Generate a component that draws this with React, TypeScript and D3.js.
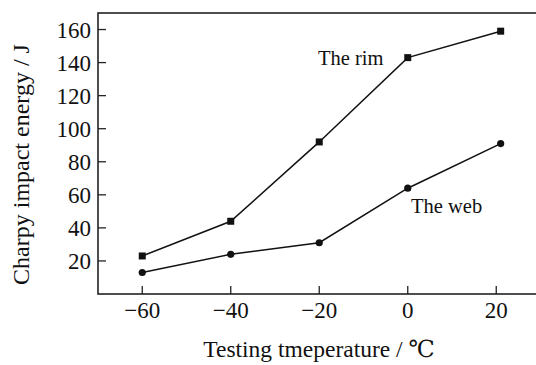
import React from "react";
import * as d3 from "d3";

const temperatures = [-60, -40, -20, 0, 21];
const rimEnergy = [23, 44, 92, 143, 159];
const webEnergy = [13, 24, 31, 64, 91];
const xTicks = [-60, -40, -20, 0, 20];
const yTicks = [20, 40, 60, 80, 100, 120, 140, 160];
const xTitle = "Testing tmeperature / ℃";
const yTitle = "Charpy impact energy / J";
const rimLabel = "The rim";
const webLabel = "The web";

export default function App() {
  const W = 536, H = 365;
  const left = 98, top = 13, bottom = 294;
  const x = d3.scaleLinear().domain([-70, 30]).range([left, left + 442.5]);
  const y = d3.scaleLinear().domain([0, 170]).range([bottom, top]);
  const line = d3
    .line<number>()
    .x((_, i) => x(temperatures[i]))
    .y((d) => y(d));
  const font = "Liberation Serif, Times New Roman, Times, DejaVu Serif, serif";
  const fmt = (v: number) => (v < 0 ? "\u2212" + Math.abs(v) : String(v));
  const stroke = "#222";
  const ts = { fontFamily: font };
  return (
    <svg width={W} height={H} style={{ position: "absolute", left: 0, top: 0, background: "#fff" }}>
      <rect x={0} y={0} width={W} height={H} fill="#fff" />
      <rect
        x={x(-70)}
        y={y(170)}
        width={x(30) - x(-70)}
        height={y(0) - y(170)}
        fill="none"
        stroke={stroke}
        strokeWidth={1.6}
      />
      {yTicks.map((t) => (
        <g key={"y" + t}>
          <line x1={left} x2={left + 8} y1={y(t)} y2={y(t)} stroke={stroke} strokeWidth={1.3} />
          <text x={91} y={y(t)} dy="0.35em" textAnchor="end" style={ts} fontSize={23} fill="#111">
            {fmt(t)}
          </text>
        </g>
      ))}
      {xTicks.map((t) => (
        <g key={"x" + t}>
          <line x1={x(t)} x2={x(t)} y1={bottom} y2={bottom - 8} stroke={stroke} strokeWidth={1.3} />
          <text x={x(t)} y={318} textAnchor="middle" style={ts} fontSize={23} fill="#111">
            {fmt(t)}
          </text>
        </g>
      ))}
      <text x={319} y={357} textAnchor="middle" style={ts} fontSize={23.5} fill="#111">
        {xTitle}
      </text>
      <text
        transform={`translate(28.5, 164.5) rotate(-90)`}
        textAnchor="middle"
        style={ts}
        fontSize={24}
        fill="#111"
      >
        {yTitle}
      </text>
      <path d={line(rimEnergy) || ""} fill="none" stroke="#111" strokeWidth={1.5} />
      <path d={line(webEnergy) || ""} fill="none" stroke="#111" strokeWidth={1.5} />
      {rimEnergy.map((v, i) => (
        <rect key={"r" + i} x={x(temperatures[i]) - 3.5} y={y(v) - 3.5} width={7} height={7} fill="#111" />
      ))}
      {webEnergy.map((v, i) => (
        <circle key={"w" + i} cx={x(temperatures[i])} cy={y(v)} r={3.6} fill="#111" />
      ))}
      <text x={318} y={65} style={ts} fontSize={20.5} fill="#111">
        {rimLabel}
      </text>
      <text x={411} y={213} style={ts} fontSize={20.5} fill="#111">
        {webLabel}
      </text>
    </svg>
  );
}
